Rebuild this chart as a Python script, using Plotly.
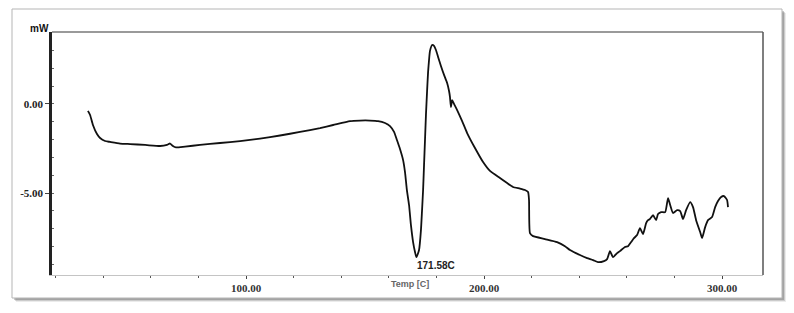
import plotly.graph_objects as go

# ---- data ----
temp = [33.6, 34.5, 35.7, 37.4, 38.7, 40.8, 42.9, 47.1, 51.3, 57.6, 63.9, 66.8, 68.1, 69.3, 70.6,
        74.4, 80.7, 89.1, 97.5, 105.9, 114.3, 122.7, 131.1, 136.6, 143.7, 147.9, 152.1, 155.5,
        158.4, 160.5, 162.2, 163.4, 164.7, 166.0, 166.8, 167.6, 168.5, 169.3, 170.2, 171.0, 171.58,
        172.7, 173.5, 173.9, 174.4, 174.8, 175.2, 175.6, 176.1, 176.5, 176.9, 177.3, 178.2, 179.0,
        179.8, 180.7, 181.9, 183.2, 184.5, 185.3, 185.7, 186.1, 186.6, 187.4, 188.7, 190.8, 192.9,
        196.2, 199.6, 202.5, 206.7, 209.7, 212.2, 215.1, 217.2, 218.5, 218.9, 219.3, 220.6, 225.6,
        230.7, 234.0, 236.1, 240.3, 243.3, 245.8, 247.9, 250.4, 251.7, 252.9, 254.2, 255.9, 257.1,
        259.2, 260.5, 261.8, 263.0, 264.3, 265.5, 266.8, 268.1, 268.9, 269.7, 271.0, 272.3, 273.1,
        274.4, 276.1, 277.3, 278.2, 279.4, 281.1, 282.4, 283.6, 284.9, 286.6, 287.8, 289.1, 290.8,
        291.6, 292.9, 294.1, 295.8, 297.1, 298.3, 299.6, 300.8, 302.1, 302.5]
heat_flow = [-0.39, -0.62, -1.18, -1.69, -1.91, -2.08, -2.13, -2.22, -2.25, -2.30, -2.36, -2.30, -2.22,
             -2.36, -2.44, -2.39, -2.30, -2.19, -2.08, -1.94, -1.77, -1.57, -1.35, -1.18, -0.96, -0.93,
             -0.93, -0.96, -1.07, -1.24, -1.57, -2.02, -2.53, -3.15, -3.82, -4.83, -5.67, -6.80, -7.75,
             -8.31, -8.60, -8.20, -7.08, -6.12, -4.83, -3.43, -2.02, -0.62, 0.79, 1.80, 2.47, 2.98, 3.31,
             3.26, 3.03, 2.64, 2.13, 1.63, 1.18, 0.73, 0.39, -0.17, 0.22, 0.0, -0.34, -0.96, -1.63,
             -2.47, -3.26, -3.76, -4.16, -4.44, -4.66, -4.75, -4.83, -4.94, -5.39, -7.25, -7.42, -7.58,
             -7.75, -7.98, -8.20, -8.48, -8.65, -8.76, -8.88, -8.82, -8.71, -8.26, -8.60, -8.37, -8.26,
             -8.03, -7.98, -7.75, -7.53, -7.36, -6.97, -7.30, -6.69, -6.52, -6.46, -6.24, -6.52, -6.18,
             -6.07, -6.07, -5.28, -5.67, -6.12, -5.96, -6.01, -6.46, -5.96, -5.51, -5.79, -6.52, -7.19,
             -7.53, -6.91, -6.52, -6.35, -5.79, -5.45, -5.22, -5.17, -5.39, -5.79]

x_tick_vals = [100, 200, 300]
x_tick_text = ["100.00", "200.00", "300.00"]
y_tick_vals = [0, -5]
y_tick_text = ["0.00", "-5.00"]
peak_temp = 171.58
peak_value = -8.60
peak_label = "171.58C"
x_title = "Temp [C]"
y_unit = "mW"

W, H = 794, 313
def px(x): return x / W
def py(y): return 1 - y / H

fig = go.Figure()
fig.add_trace(go.Scatter(x=temp, y=heat_flow, mode="lines",
                         line=dict(color="#111111", width=1.8, shape="spline", smoothing=0.5),
                         showlegend=False))

shapes = []
# card drop shadow
for off, op in [(4, 0.10), (3, 0.18), (2, 0.28)]:
    shapes.append(dict(type="rect", xref="paper", yref="paper", layer="below",
                       x0=px(12 + off), x1=px(782 + off), y0=py(298 + off), y1=py(9 + off),
                       fillcolor=f"rgba(60,60,60,{op})", line=dict(width=0)))
# card
shapes.append(dict(type="rect", xref="paper", yref="paper", layer="below",
                   x0=px(12), x1=px(782), y0=py(298), y1=py(9),
                   fillcolor="white", line=dict(color="#b5b5b5", width=1)))
# plot frame: top (gray) and right (dark)
shapes.append(dict(type="line", xref="paper", yref="paper", layer="above",
                   x0=px(52), x1=px(763), y0=py(32), y1=py(32),
                   line=dict(color="#9a9a9a", width=2)))
shapes.append(dict(type="line", xref="paper", yref="paper", layer="above",
                   x0=px(763), x1=px(763), y0=py(32), y1=py(275),
                   line=dict(color="#555555", width=1.5)))

annotations = [
    dict(x=peak_temp, y=peak_value, xref="x", yref="y", text=peak_label, showarrow=False,
         xanchor="left", yanchor="top", xshift=-1, yshift=-1,
         font=dict(family="Liberation Sans", size=10, color="#222222", weight="bold")),
    dict(x=px(410), y=py(284), xref="paper", yref="paper", text=x_title, showarrow=False,
         xanchor="center", yanchor="middle",
         font=dict(family="Liberation Sans", size=9, color="#666666", weight="bold")),
    dict(x=px(51), y=py(28), xref="paper", yref="paper", text=y_unit, showarrow=False,
         xanchor="right", yanchor="middle",
         font=dict(family="Liberation Sans", size=10, color="#111111", weight="bold")),
]

fig.update_layout(
    width=W, height=H,
    margin=dict(l=0, r=0, t=0, b=0),
    paper_bgcolor="white", plot_bgcolor="white",
    shapes=shapes, annotations=annotations,
    xaxis=dict(domain=[px(52), px(763)], range=[18.5, 317.2],
               showgrid=False, zeroline=False,
               showline=True, linecolor="#c4c4c4", linewidth=1,
               tickmode="array", tickvals=x_tick_vals, ticktext=x_tick_text,
               ticks="outside", ticklen=3, tickcolor="#444444", tickwidth=1,
               minor=dict(dtick=20, tick0=0, ticks="outside", ticklen=2, tickcolor="#555555"),
               tickfont=dict(family="Liberation Serif", size=11, color="#333333", weight="bold")),
    yaxis=dict(domain=[py(275), py(32)], range=[-9.6, 4.04],
               showgrid=False, zeroline=False,
               showline=True, linecolor="#222222", linewidth=2.5,
               tickmode="array", tickvals=y_tick_vals, ticktext=y_tick_text,
               ticks="outside", ticklen=4, tickcolor="#444444", tickwidth=1,
               minor=dict(dtick=1, tick0=0, ticks="inside", ticklen=2, tickcolor="#666666"),
               tickfont=dict(family="Liberation Serif", size=11, color="#222222", weight="bold")),
)

fig.write_html("out.html")
